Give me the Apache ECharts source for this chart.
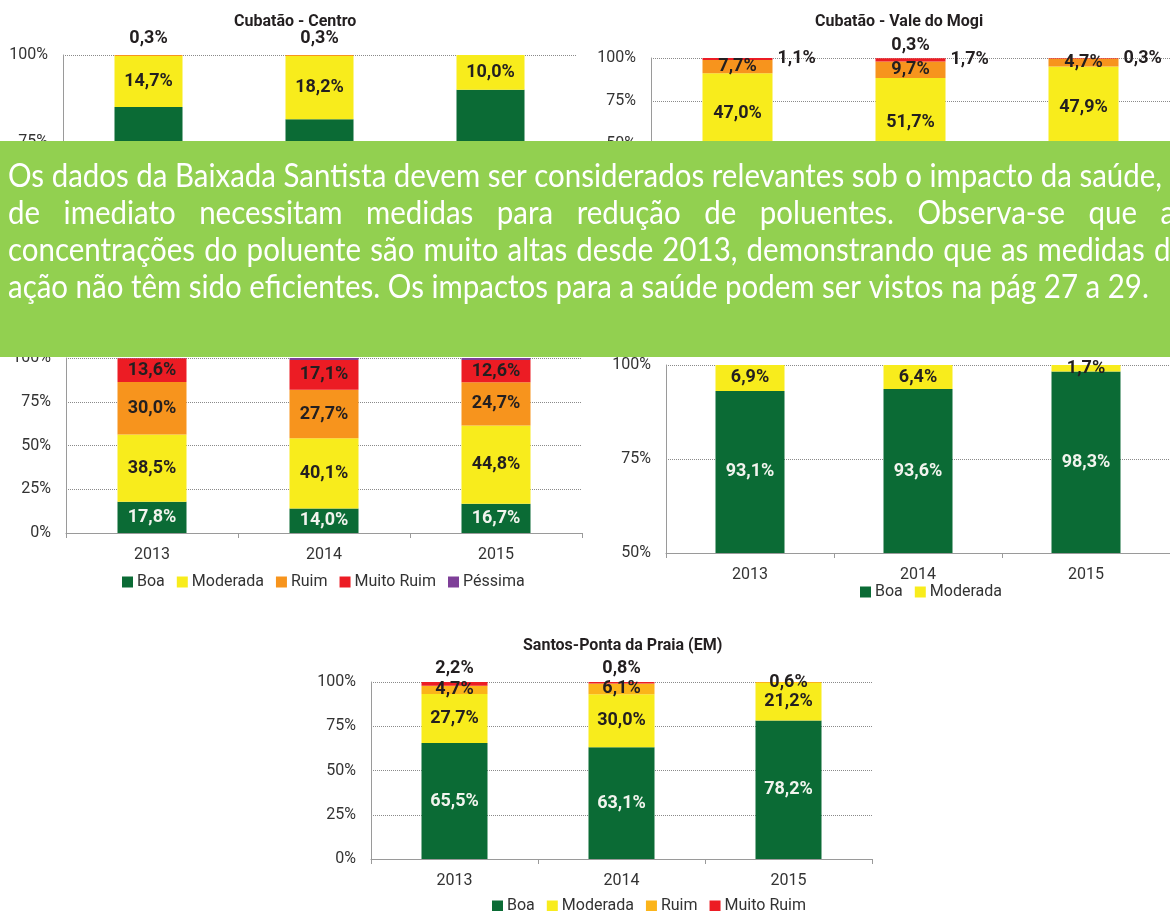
<!DOCTYPE html>
<html>
<head>
<meta charset="utf-8">
<style>
  html, body { margin: 0; padding: 0; background: #fff; }
  #chart { width: 1170px; height: 911px; }
</style>
<script src="https://cdn.jsdelivr.net/npm/echarts@6/dist/echarts.min.js"></script>
</head>
<body>
<div id="chart"></div>
<script>
const years = ['2013', '2014', '2015'];

// Cubatão - Centro
const centroBoa = [85.0, 81.5, 90.0];
const centroModerada = [14.7, 18.2, 10.0];
const centroRuim = [0.3, 0.3, null];

// Cubatão - Vale do Mogi
const mogiBoa = [44.2, 36.6, 47.1];
const mogiModerada = [47.0, 51.7, 47.9];
const mogiRuim = [7.7, 9.7, 4.7];
const mogiMuitoRuim = [1.1, 1.7, 0.3];
const mogiPessima = [null, 0.3, null];

// gráfico do meio à esquerda (título coberto)
const meioBoa = [17.8, 14.0, 16.7];
const meioModerada = [38.5, 40.1, 44.8];
const meioRuim = [30.0, 27.7, 24.7];
const meioMuitoRuim = [13.6, 17.1, 12.6];
const meioPessima = [0.1, 1.1, 1.2];

// gráfico do meio à direita (título coberto)
const dirBoa = [93.1, 93.6, 98.3];
const dirModerada = [6.9, 6.4, 1.7];

// Santos-Ponta da Praia (EM)
const santosBoa = [65.5, 63.1, 78.2];
const santosModerada = [27.7, 30.0, 21.2];
const santosRuim = [4.7, 6.1, 0.6];
const santosMuitoRuim = [2.2, 0.8, null];

const boxLines = [
  'Os dados da Baixada Santista devem ser considerados relevantes sob o impacto da saúde,',
  'de imediato necessitam medidas para redução de poluentes. Observa-se que as',
  'concentrações do poluente são muito altas desde 2013, demonstrando que as medidas de',
  'ação não têm sido eficientes. Os impactos para a saúde podem ser vistos na pág 27 a 29.'
];

const FONT = 'Roboto, sans-serif';
const C_BOA = '#0b6b35';
const C_MOD = '#f8ec1c';
const C_RUIM = '#f7941d';
const C_RUIM2 = '#fbb41a';
const C_MR = '#ec1c24';
const C_PES = '#7e3f98';

const pct = v => v.toFixed(1).replace('.', ',') + '%';

function bar(name, values, idx, color, pos, textColor, width, dist) {
  return {
    type: 'bar',
    name: name,
    stack: 's' + idx,
    xAxisIndex: idx,
    yAxisIndex: idx,
    data: values,
    barWidth: width,
    itemStyle: { color: color },
    label: {
      show: true,
      position: pos,
      distance: dist == null ? 5 : dist,
      color: textColor,
      fontFamily: FONT,
      fontWeight: 'bold',
      fontSize: 18,
      formatter: p => (p.value == null ? '' : pct(p.value)),
    },
  };
}

function xAxis(idx) {
  return {
    type: 'category',
    gridIndex: idx,
    data: years,
    axisLine: { lineStyle: { color: '#9a9a9a' } },
    axisTick: { show: true, length: 5, lineStyle: { color: '#9a9a9a' } },
    axisLabel: { color: '#333', fontFamily: FONT, fontSize: 16, margin: 14 },
  };
}

function yAxis(idx, min) {
  return {
    type: 'value',
    gridIndex: idx,
    min: min,
    max: 100,
    interval: 25,
    axisLine: { show: true, lineStyle: { color: '#9a9a9a' } },
    axisTick: { show: false },
    splitLine: { lineStyle: { color: '#8a8a8a', type: [1, 1] } },
    axisLabel: { formatter: '{value}%', color: '#333', fontFamily: FONT, fontSize: 16, margin: 15 },
  };
}

const DARK = '#231f20';
const LIGHT = '#f2f4ee';

const series = [
  // 0: Centro
  bar('Boa', centroBoa, 0, C_BOA, 'inside', LIGHT, 68),
  bar('Moderada', centroModerada, 0, C_MOD, 'inside', DARK, 68),
  bar('Ruim', centroRuim, 0, C_RUIM, 'top', DARK, 68, 8),
  // 1: Vale do Mogi
  bar('Boa', mogiBoa, 1, C_BOA, 'inside', LIGHT, 70),
  bar('Moderada', mogiModerada, 1, C_MOD, 'inside', DARK, 70),
  bar('Ruim', mogiRuim, 1, C_RUIM, 'inside', DARK, 70),
  bar('Muito Ruim', mogiMuitoRuim, 1, C_MR, 'right', DARK, 70, 5),
  bar('Péssima', mogiPessima, 1, C_MR, 'top', DARK, 70, 4),
  // 2: meio esquerda
  bar('Boa', meioBoa, 2, C_BOA, 'inside', LIGHT, 69),
  bar('Moderada', meioModerada, 2, C_MOD, 'inside', DARK, 69),
  bar('Ruim', meioRuim, 2, C_RUIM, 'inside', DARK, 69),
  bar('Muito Ruim', meioMuitoRuim, 2, C_MR, 'inside', DARK, 69),
  bar('Péssima', meioPessima, 2, C_PES, 'top', DARK, 69),
  // 3: meio direita
  bar('Boa', dirBoa, 3, C_BOA, 'inside', LIGHT, 69),
  bar('Moderada', dirModerada, 3, C_MOD, 'inside', DARK, 69),
  // 4: Santos
  bar('Boa', santosBoa, 4, C_BOA, 'inside', LIGHT, 66),
  bar('Moderada', santosModerada, 4, C_MOD, 'inside', DARK, 66),
  bar('Ruim', santosRuim, 4, C_RUIM2, 'inside', DARK, 66),
  bar('Muito Ruim', santosMuitoRuim, 4, C_MR, 'top', DARK, 66, 5),
];

const legendBase = {
  icon: 'rect',
  itemWidth: 11,
  itemHeight: 11,
  itemGap: 12,
  selectedMode: false,
  textStyle: { color: '#333', fontFamily: FONT, fontSize: 16, padding: [0, 0, 0, -1] },
};

// caixa verde com texto justificado
const BOX_FONT_SIZE = 32;
const BOX_FONT = BOX_FONT_SIZE + 'px Lato';
const ctx = document.createElement('canvas').getContext('2d');
ctx.font = BOX_FONT;
const textLeft = 8;
const sx = (1162 - textLeft) / ctx.measureText(boxLines[0]).width;
const lineEnds = [1162, 1188, 1186, null];
const lineY = [177, 214, 251, 288];

const boxText = [];
boxLines.forEach((line, i) => {
  const words = line.split(' ');
  const widths = words.map(w => ctx.measureText(w).width * sx);
  const total = widths.reduce((a, b) => a + b, 0);
  const gap = lineEnds[i] == null
    ? ctx.measureText(' ').width * sx
    : (lineEnds[i] - textLeft - total) / (words.length - 1);
  let x = textLeft;
  words.forEach((w, j) => {
    boxText.push({
      type: 'text',
      x: x,
      y: lineY[i],
      scaleX: sx,
      z: 101,
      style: {
        text: w,
        font: BOX_FONT,
        fill: '#ffffff',
        verticalAlign: 'middle',
      },
    });
    x += widths[j] + gap;
  });
});

const titleStyle = { fontFamily: FONT, fontSize: 16, fontWeight: 'bold', color: '#231f20' };

const chart = echarts.init(document.getElementById('chart'));
chart.setOption({
  animation: false,
  backgroundColor: '#ffffff',
  title: [
    { text: 'Cubatão - Centro', left: 234, top: 14, padding: 0, textStyle: titleStyle },
    { text: 'Cubatão - Vale do Mogi', left: 815, top: 14, padding: 0, textStyle: titleStyle },
    { text: 'Santos-Ponta da Praia (EM)', left: 523, top: 638, padding: 0, textStyle: titleStyle },
  ],
  legend: [
    Object.assign({}, legendBase, {
      left: 117, top: 569,
      data: [
        { name: 'Boa', itemStyle: { color: C_BOA } },
        { name: 'Moderada', itemStyle: { color: C_MOD } },
        { name: 'Ruim', itemStyle: { color: C_RUIM } },
        { name: 'Muito Ruim', itemStyle: { color: C_MR } },
        { name: 'Péssima', itemStyle: { color: C_PES } },
      ],
    }),
    Object.assign({}, legendBase, {
      left: 855, top: 579,
      data: [
        { name: 'Boa', itemStyle: { color: C_BOA } },
        { name: 'Moderada', itemStyle: { color: C_MOD } },
      ],
    }),
    Object.assign({}, legendBase, {
      left: 487, top: 893,
      data: [
        { name: 'Boa', itemStyle: { color: C_BOA } },
        { name: 'Moderada', itemStyle: { color: C_MOD } },
        { name: 'Ruim', itemStyle: { color: C_RUIM2 } },
        { name: 'Muito Ruim', itemStyle: { color: C_MR } },
      ],
    }),
  ],
  grid: [
    { left: 63, top: 55, width: 513, height: 173.5 },
    { left: 651, top: 58, width: 523, height: 172 },
    { left: 66, top: 358, width: 516, height: 175 },
    { left: 666, top: 365, width: 516, height: 188 },
    { left: 371, top: 682, width: 501, height: 177 },
  ],
  xAxis: [xAxis(0), xAxis(1), xAxis(2), xAxis(3), xAxis(4)],
  yAxis: [yAxis(0, 50), yAxis(1, 0), yAxis(2, 0), yAxis(3, 50), yAxis(4, 0)],
  series: series,
  graphic: [
    {
      type: 'rect',
      z: 100,
      shape: { x: 0, y: 141, width: 1170, height: 216 },
      style: { fill: '#92d050' },
    },
  ].concat(boxText),
});
</script>
</body>
</html>
